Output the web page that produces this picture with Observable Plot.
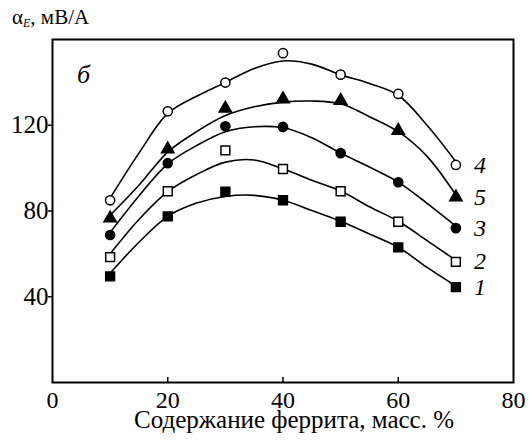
<!DOCTYPE html>
<html>
<head>
<meta charset="utf-8">
<script src="https://cdn.jsdelivr.net/npm/d3@7"></script>
<script src="https://cdn.jsdelivr.net/npm/@observablehq/plot@0.6"></script>
<style>
  body { margin: 0; background: #fff; }
  #wrap { position: relative; width: 531px; height: 443px; font-family: "Liberation Serif", serif; }
  #ylab { position: absolute; left: 12px; top: 5px; font-size: 21px; color: #000; white-space: nowrap; }
  #ylab sub { font-style: italic; font-size: 12px; vertical-align: -3px; }
  svg, svg text { font-family: "Liberation Serif", serif !important; }
</style>
</head>
<body>
<div id="wrap"><div id="ylab">α<sub>E</sub>, мВ/А</div></div>
<script>
// ---- data ----
const xPoints = [10, 20, 30, 40, 50, 60, 70];
const series1 = [49.5, 77.5, 89, 85, 75, 63, 44.5];     // filled squares
const series2 = [58.5, 89.2, 108.3, 99.6, 89.2, 75, 56.3]; // open squares
const series3 = [68.8, 102.3, 119.5, 119.2, 107, 93.4, 72]; // filled circles
const series4 = [85, 126.5, 139.9, 153.6, 143.6, 134.6, 101.5]; // open circles
const series5 = [76.6, 108.8, 127.8, 132.2, 131.5, 117.5, 86.5]; // filled triangles

// fitted curves
const xCurve = [10, 15, 20, 25, 30, 35, 40, 45, 50, 55, 60, 65, 70];
const curve1 = [51, 65.4, 77.5, 83.7, 86.8, 87.3, 85, 80.2, 75.2, 69.3, 63.1, 53.7, 45];
const curve2 = [60, 76, 89, 97, 102.8, 103.8, 99.7, 94.3, 89.3, 82, 75.2, 66.2, 57];
const curve3 = [70, 87, 102, 110.5, 117, 119.3, 118.8, 114.2, 107, 100.5, 93.5, 83.6, 73];
const curve4 = [86, 107, 125.5, 133.5, 140, 146.5, 150, 148.5, 143.5, 139.5, 134, 120, 103];
const curve5 = [78, 92, 107.5, 117, 124.5, 128.6, 130.8, 131.3, 130, 124, 117, 105.5, 87.5];

const seriesNames = ["1", "2", "3", "4", "5"];
const xTicks = [0, 20, 40, 60, 80];
const yTicks = [40, 80, 120];
const xLabel = "Содержание феррита, масс. %";
const panelLabel = "б";

// ---- build tables ----
const pointSeries = [series1, series2, series3, series4, series5];
const curveSeries = [curve1, curve2, curve3, curve4, curve5];
const symbols = ["square", "square", "circle", "circle", "triangle"];
const fills = ["black", "white", "black", "white", "black"];
const sizes = [5, 5, 4.6, 4.6, 4.6];

const curves = [];
curveSeries.forEach((vals, i) => vals.forEach((v, j) => curves.push({ s: seriesNames[i], x: xCurve[j], y: v })));
const ends = pointSeries.map((vals, i) => ({ s: seriesNames[i], x: xPoints[xPoints.length - 1], y: vals[vals.length - 1] }));

const dotMarks = pointSeries.map((vals, i) =>
  Plot.dot(vals.map((v, j) => ({ x: xPoints[j], y: v })), {
    x: "x", y: "y", symbol: symbols[i], r: sizes[i], fill: fills[i], stroke: "black", strokeWidth: 1.5
  })
);

const plot = Plot.plot({
  width: 531,
  height: 443,
  marginLeft: 52,
  marginRight: 18,
  marginTop: 39,
  marginBottom: 61,
  style: "font-family: 'Liberation Serif', serif; font-size: 25px; background: white; color: black;",
  x: { domain: [0, 80] },
  y: { domain: [0, 160] },
  marks: [
    Plot.axisY(yTicks, { tickSize: 4, tickPadding: 0, fontSize: 25, label: null, strokeWidth: 1.5 }),
    Plot.axisX(xTicks, { tickSize: 0, tickPadding: 8, fontSize: 24, label: null }),
    Plot.tickX(xTicks.slice(1, -1), { x: d => d, insetTop: 338, stroke: "black", strokeWidth: 1.5 }),
    Plot.line(curves, { x: "x", y: "y", z: "s", curve: "catmull-rom", stroke: "black", strokeWidth: 1.6 }),
    ...dotMarks,
    Plot.text(ends, { x: "x", y: "y", text: "s", dx: 24, fontStyle: "italic", fontSize: 24, textAnchor: "middle" }),
    Plot.text([panelLabel], { frameAnchor: "top-left", dx: 31, dy: 25, fontStyle: "italic", fontSize: 26, textAnchor: "middle" }),
    Plot.text([xLabel], { frameAnchor: "bottom", dx: 11, dy: 45.5, fontSize: 25, textAnchor: "middle" }),
    Plot.frame({ stroke: "black", strokeWidth: 2 })
  ]
});
plot.style.position = "absolute";
plot.style.left = "0";
plot.style.top = "0";
const wrap = document.getElementById("wrap");
wrap.insertBefore(plot, wrap.firstChild);
</script>
</body>
</html>
